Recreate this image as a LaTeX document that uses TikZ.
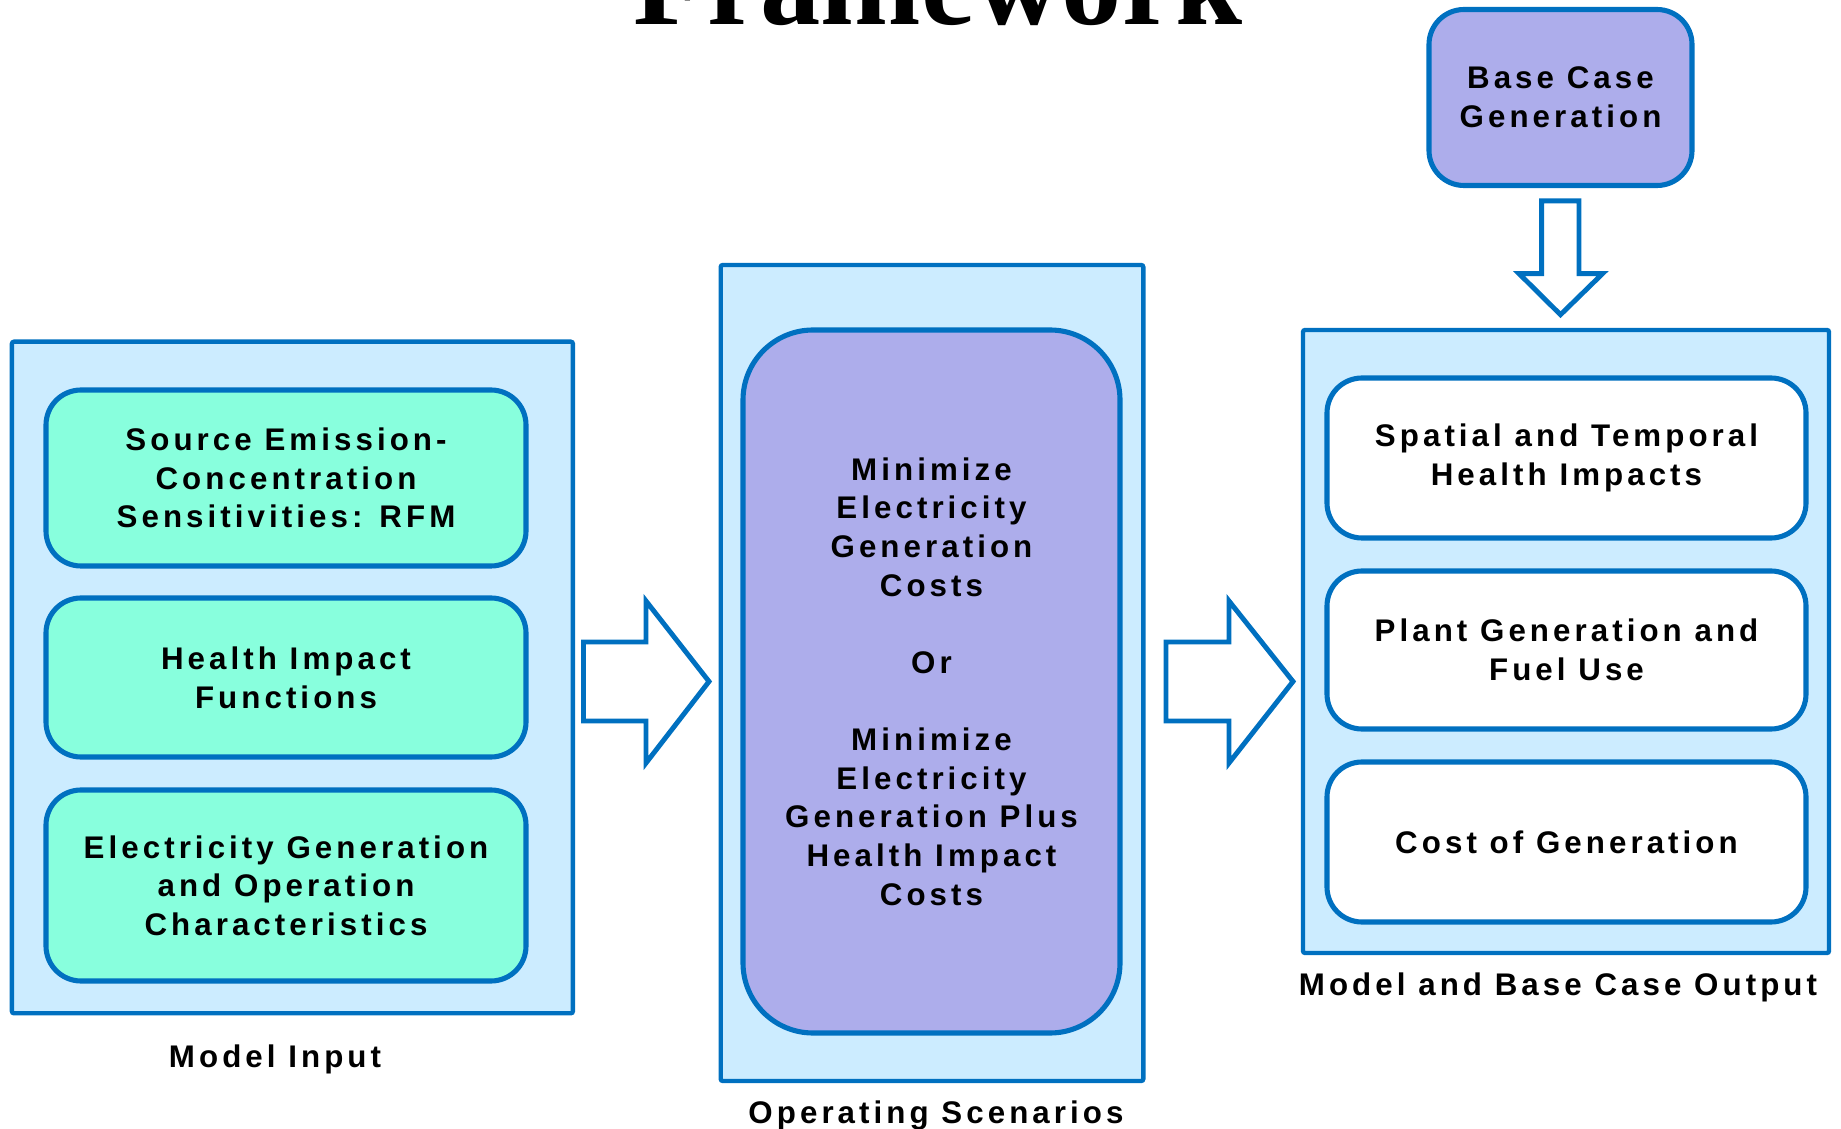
\documentclass[tikz,border=0pt]{standalone}
\usepackage{fontspec}
\setmainfont{Liberation Sans}
\newfontfamily\boxfont[LetterSpace=13]{Liberation Sans}
\newfontfamily\titlefont{Liberation Serif}
\usetikzlibrary{positioning}

\definecolor{edgeblue}{RGB}{0,112,192}
\definecolor{paleblue}{RGB}{204,236,255}
\definecolor{aqua}{RGB}{136,255,221}
\definecolor{lavender}{RGB}{173,173,235}

\tikzset{
  panel/.style={draw=edgeblue, fill=paleblue, line width=1.25pt, rounded corners=0.6pt, inner sep=0pt},
  item/.style={draw=edgeblue, line width=1.45pt, rounded corners=0.35cm, align=center,
    minimum width=4.79cm, font=\boxfont\bfseries\fontsize{8.9}{11}\selectfont},
  inbox/.style={item, fill=aqua},
  outbox/.style={item, fill=white},
  optbox/.style={item, fill=lavender},
  caption/.style={font=\boxfont\bfseries\fontsize{8.9}{11}\selectfont, inner sep=0pt},
  bigarrow/.style={draw=edgeblue, fill=white, line width=1.4pt}
}

\begin{document}
\begin{tikzpicture}
%%
  \useasboundingbox (0,0) rectangle (18.41,11.28);
  \clip (0,0) rectangle (18.41,11.28);
  \node (title) at (9.38,11.03) [anchor=base, font=\titlefont\bfseries\fontsize{34.3}{40}\selectfont] {Framework};
%% inputs
  \node (inp) at (2.924,4.505) [panel, minimum width=5.61cm, minimum height=6.716cm] {};
  \node (src) at (2.86,6.50) [inbox, minimum width=4.80cm, minimum height=1.76cm] {Source Emission-\\Concentration\\Sensitivities: RFM};
  \node (hif) at (2.86,4.505) [inbox, minimum width=4.80cm, minimum height=1.59cm] {Health Impact\\Functions};
  \node (elec) at (2.86,2.425) [inbox, minimum width=4.80cm, minimum height=1.91cm] {Electricity Generation\\and Operation\\Characteristics};
  \node (inplbl) at (2.75,0.69) [caption] {Model Input};
%% scenarios
  \node (ops) at (9.32,4.55) [panel, minimum width=4.226cm, minimum height=8.16cm] {};
  \node (opt) at (9.315,4.465) [optbox, rounded corners=0.7cm, minimum width=3.77cm, minimum height=7.03cm]
    {Minimize\\Electricity\\Generation\\Costs\\[11pt]Or\\[11pt]Minimize\\Electricity\\Generation Plus\\Health Impact\\Costs};
  \node (opslbl) at (9.36,0.044) [caption, anchor=base] {Operating Scenarios};
%% outputs
  \node (out) at (15.66,4.865) [panel, minimum width=5.26cm, minimum height=6.23cm] {};
  \node (sp) at (15.665,6.70) [outbox, minimum height=1.60cm] {Spatial and Temporal\\Health Impacts};
  \node (pg) at (15.665,4.78) [outbox, minimum height=1.58cm] {Plant Generation and\\Fuel Use};
  \node (cg) at (15.665,2.86) [outbox, minimum height=1.60cm] {Cost of Generation};
  \node (outlbl) at (15.58,1.41) [caption] {Model and Base Case Output};
  \node (base) at (15.605,10.305) [optbox, minimum width=2.63cm, minimum height=1.76cm] {Base Case\\Generation};
%% block arrows
  \draw [bigarrow] (5.835,4.86) -- (6.46,4.86) -- (6.46,5.27) -- (7.09,4.465)
    -- (6.46,3.65) -- (6.46,4.07) -- (5.835,4.07) -- cycle;
  \draw [bigarrow] (11.66,4.86) -- (12.29,4.86) -- (12.29,5.27) -- (12.93,4.465)
    -- (12.29,3.65) -- (12.29,4.07) -- (11.66,4.07) -- cycle;
  \draw [bigarrow] (15.416,9.272) -- (15.416,8.544) -- (15.19,8.544) -- (15.605,8.133)
    -- (16.026,8.544) -- (15.79,8.544) -- (15.79,9.272) -- cycle;
%
\end{tikzpicture}
\end{document}
